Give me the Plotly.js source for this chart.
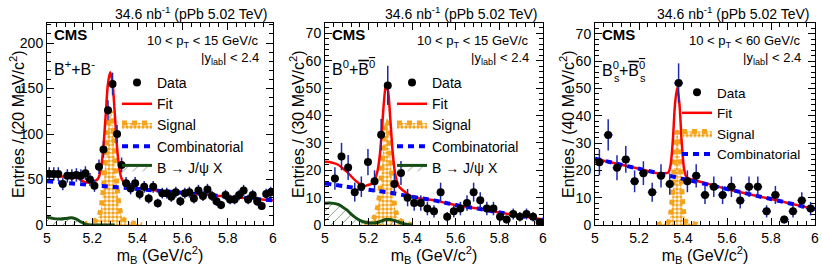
<!DOCTYPE html>
<html><head><meta charset="utf-8">
<script src="https://cdn.plot.ly/plotly-3.0.1.min.js"></script>
<style>html,body{margin:0;padding:0;background:#fff}#chart{width:822px;height:266px}</style>
</head><body><div id="chart"></div>
<script>
// ---------- Panel 1 : B+ + B-  (20 MeV bins) ----------
const bpMass = [5.01,5.03,5.05,5.07,5.09,5.11,5.13,5.15,5.17,5.19,5.21,5.23,5.25,5.27,5.29,5.31,5.33,5.35,5.37,5.39,
                5.41,5.43,5.45,5.47,5.49,5.51,5.53,5.55,5.57,5.59,5.61,5.63,5.65,5.67,5.69,5.71,5.73,5.75,5.77,5.79,
                5.81,5.83,5.85,5.87,5.89,5.91,5.93,5.95,5.97,5.99];
const bpCounts = [56,56,56,45,54,54,55,54,57,50,43,64,83,126,155,100,66,46,40,46,
                  34,42,29,42,24,35,35,31,36,26,35,36,29,38,32,39,32,26,22,33,
                  28,28,33,38,28,33,26,21,34,36];
const bpFitX = [5.00,5.03,5.06,5.09,5.11,5.13,5.15,5.17,5.19,5.21,5.22,5.23,5.24,5.25,5.26,5.27,5.28,5.29,5.30,5.31,5.32,5.33,5.34,5.36,5.38,5.40,5.50,5.60,5.70,5.80,5.90,6.00];
const bpFitY = [56.5,54.4,53.2,53.6,53.7,52.3,49.4,46.9,47,48.6,49.4,53,64,87,122,156,168,156,122,85,62,51,47,44.4,42,40.6,37.5,35.4,33.3,31.2,29.1,27];
const bpSigX = [5.16,5.18,5.20,5.22,5.23,5.24,5.25,5.26,5.27,5.28,5.29,5.30,5.31,5.32,5.33,5.34,5.36,5.38,5.40,5.42];
const bpSigY = [0,2,4,6,10,20,42,77,110,124,110,77,42,20,10,6,4,2,1,0];
const bpCombX = [5.0,5.2,5.4,5.6,5.8,6.0];
const bpCombY = [48,43.8,39.6,35.4,31.2,27];
const bpPeakX = [5.00,5.03,5.06,5.09,5.11,5.13,5.15,5.17,5.19,5.22,5.26,5.30];
const bpPeakY = [8.5,7,6.5,7.5,8,6.5,3.5,1,0,0,0,0];

// ---------- Panel 2 : B0 + B0bar  (30 MeV bins) ----------
const b0Mass = [5.0455,5.0758,5.1061,5.1364,5.1667,5.1970,5.2273,5.2576,5.2879,5.3182,5.3485,5.3788,5.4091,5.4394,5.4697,5.5000,
                5.5303,5.5606,5.5909,5.6212,5.6515,5.6818,5.7121,5.7424,5.7727,5.8030,5.8333,5.8636,5.8939,5.9242,5.9545,5.9848];
const b0Counts = [17,25,21,12,14,23,16,33,51,15,19,10,8,8,6,5,12,3,5,6,8,12,9,6,6,3,2,4,3,4,3,1];
const b0FitX = [5.00,5.02,5.04,5.06,5.08,5.10,5.12,5.14,5.16,5.18,5.20,5.22,5.24,5.25,5.26,5.27,5.28,5.29,5.30,5.31,5.32,5.33,5.34,5.36,5.38,5.40,5.50,5.60,5.70,5.80,5.90,6.00];
const b0FitY = [23.1,23,22.6,22,20.8,19.5,17.8,16.2,15,14.2,14.7,15.3,19.4,24.5,33.5,44.6,51.6,48.5,38.2,27,19.7,15.9,14,12.5,11.3,10.3,9,7.3,6,4.6,3.3,2.0];
const b0SigX = [5.18,5.20,5.22,5.24,5.25,5.26,5.27,5.28,5.29,5.30,5.31,5.32,5.33,5.34,5.36,5.38,5.40];
const b0SigY = [0.3,1,2,6,11,20,31,38,35,25,14,7,3.5,2,1,0.5,0];
const b0CombX = [5.0,5.1,5.2,5.3,5.4,5.5,5.6,5.7,5.8,5.9,6.0];
const b0CombY = [15.2,14,12.9,11.8,10.3,9,7.3,6,4.6,3.3,2.0];
const b0PeakX = [5.00,5.02,5.04,5.06,5.08,5.10,5.12,5.14,5.16,5.18,5.20,5.22,5.24,5.26,5.28,5.30,5.32,5.34,5.36,5.38,5.40];
const b0PeakY = [7.9,8,7.9,7.5,6.6,5.5,4,2.7,1.7,1.1,0.8,0.7,0.9,1.5,2.0,2.0,1.6,1.0,0.5,0.2,0];

// ---------- Panel 3 : Bs0 + Bs0bar  (40 MeV bins) ----------
const bsMass = [5.02,5.06,5.10,5.14,5.18,5.22,5.26,5.30,5.34,5.38,5.42,5.46,5.50,5.54,5.58,5.62,5.66,5.70,5.74,5.78,5.82,5.86,5.90,5.94,5.98];
const bsCounts = [23,33,21,24,16,19,12,18,15,52,16,18,11,14,11,14,9,14,14,5,11,2,5,9,6];
const bsFitX = [5.00,5.10,5.20,5.30,5.32,5.334,5.344,5.354,5.364,5.374,5.384,5.394,5.404,5.414,5.43,5.45,5.60,5.80,6.00];
const bsFitY = [24.3,22.45,20.6,18.75,19.0,19.3,22.2,31.2,44.6,50.4,44.2,30.5,21.1,17.8,16.9,16.5,13.2,9.5,5.8];
const bsSigX = [5.28,5.30,5.32,5.334,5.344,5.354,5.364,5.374,5.384,5.394,5.404,5.414,5.43,5.45,5.47];
const bsSigY = [0,0.5,0.6,1.2,4.3,13.5,27,34,27,13.5,4.3,1.2,0.6,0.5,0];
const bsCombX = [5.0,5.2,5.4,5.6,5.8,6.0];
const bsCombY = [24.3,20.6,16.9,13.2,9.5,5.8];

const binHalf = [0.01, 0.01515, 0.02];
const legendLabels = ['Data','Fit','Signal','Combinatorial','B \u2192 J/\u03c8 X'];
const yTitles = ['Entries / (20 MeV/c<sup>2</sup>)','Entries / (30 MeV/c<sup>2</sup>)','Entries / (40 MeV/c<sup>2</sup>)'];
const speciesLabels = ['B<sup>+</sup>+B<sup>-</sup>',
  'B<sup>0</sup>+<span style="text-decoration:overline">B<sup>0</sup></span>',
  'B<sup>0</sup>+<span style="text-decoration:overline">B<sup>0</sup></span>'];
const ptLabels = ['10 < p<sub>T</sub> < 15 GeV/c','10 < p<sub>T</sub> < 15 GeV/c','10 < p<sub>T</sub> < 60 GeV/c'];

const FONT = 'Liberation Sans, Arial, Helvetica, sans-serif';
const ORANGE = '#f5a21c', BLUE = '#0000ff', RED = '#ff0000', GREEN = '#154d15', ERR = '#1c2aa8';

const panels = [
  {mass:bpMass, counts:bpCounts, fitX:bpFitX, fitY:bpFitY, sigX:bpSigX, sigY:bpSigY, combX:bpCombX, combY:bpCombY, pkX:bpPeakX, pkY:bpPeakY},
  {mass:b0Mass, counts:b0Counts, fitX:b0FitX, fitY:b0FitY, sigX:b0SigX, sigY:b0SigY, combX:b0CombX, combY:b0CombY, pkX:b0PeakX, pkY:b0PeakY},
  {mass:bsMass, counts:bsCounts, fitX:bsFitX, fitY:bsFitY, sigX:bsSigX, sigY:bsSigY, combX:bsCombX, combY:bsCombY}
];

const traces = [];
panels.forEach((p, i) => {
  const xa = i === 0 ? 'x' : 'x' + (i + 1);
  const ya = i === 0 ? 'y' : 'y' + (i + 1);
  const lg = i === 0 ? 'legend' : 'legend' + (i + 1);
  traces.push({x:p.sigX, y:p.sigY, xaxis:xa, yaxis:ya, legend:lg, legendrank:3, name:legendLabels[2],
    type:'scatter', mode:'lines', line:{color:ORANGE, width:5, dash:'dot', shape:'spline'},
    fill:'tozeroy', fillcolor:'rgba(248,190,100,0.6)',
    fillpattern:{shape:'.', fgcolor:ORANGE, size:4, solidity:0.6}});
  if (p.pkX) {
    traces.push({x:p.pkX, y:p.pkY, xaxis:xa, yaxis:ya, legend:lg, legendrank:5, name:legendLabels[4],
      type:'scatter', mode:'lines', line:{color:GREEN, width:3, shape:'spline'},
      fill:'tozeroy', fillcolor:'rgba(255,255,255,0)',
      fillpattern:{shape:'/', fgcolor:'#6f8f6f', bgcolor:'rgba(255,255,255,0)', size:7, solidity:0.12}});
  }
  traces.push({x:p.fitX, y:p.fitY, xaxis:xa, yaxis:ya, legend:lg, legendrank:2, name:legendLabels[1],
    type:'scatter', mode:'lines', line:{color:RED, width:2.5, shape:'spline', smoothing:0.8}});
  traces.push({x:p.combX, y:p.combY, xaxis:xa, yaxis:ya, legend:lg, legendrank:4, name:legendLabels[3],
    type:'scatter', mode:'lines', line:{color:BLUE, width:4, dash:'6px,5px', shape:'spline'}});
  traces.push({x:p.mass, y:p.counts, xaxis:xa, yaxis:ya, legend:lg, legendrank:1, name:legendLabels[0],
    type:'scatter', mode:'markers', marker:{color:'#000', size:8},
    error_y:{type:'data', array:p.counts.map(Math.sqrt), color:ERR, thickness:1.5, width:0},
    error_x:{type:'constant', value:binHalf[i], color:ERR, thickness:1.5, width:0}});
});

const W = 822, H = 266;
const px = v => v / W, py = v => 1 - v / H;
const xDom = [[47,273],[325,543],[595,815]];
const yRanges = [[0,222],[0,73.8],[0,74]];
const yDticks = [50,10,10];
const yMinor = [10,2,2];
const yTitleX = [17, 297, 567];

const layout = {
  width:W, height:H, margin:{l:0,r:0,t:0,b:0}, showlegend:true,
  paper_bgcolor:'#fff', plot_bgcolor:'#fff',
  font:{family:FONT, color:'#000', size:13},
  annotations:[]
};
const legendX = [117, 392, 677];
const legendY = [67, 67, 77];
const legendFont = [14, 14, 13.5];

for (let i = 0; i < 3; i++) {
  const s = i === 0 ? '' : String(i + 1);
  layout['xaxis' + s] = {
    domain:[px(xDom[i][0]), px(xDom[i][1])], range:[5,6], anchor:'y' + s,
    showline:true, linecolor:'#000', linewidth:1, mirror:'allticks',
    ticks:'inside', ticklen:7, tickwidth:1, tickcolor:'#000', dtick:0.2, tick0:5,
    minor:{ticks:'inside', ticklen:4, dtick:0.04, tickcolor:'#000'},
    showgrid:false, zeroline:false, tickfont:{size:14},
    title:{text:'m<sub>B</sub> (GeV/c<sup>2</sup>)', font:{size:16}, standoff:0}
  };
  layout['yaxis' + s] = {
    domain:[py(225), py(23)], range:yRanges[i], anchor:'x' + s,
    showline:true, linecolor:'#000', linewidth:1, mirror:'allticks',
    ticks:'inside', ticklen:7, tickwidth:1, tickcolor:'#000', dtick:yDticks[i], tick0:0,
    minor:{ticks:'inside', ticklen:4, dtick:yMinor[i], tickcolor:'#000'},
    showgrid:false, zeroline:false, tickfont:{size:14}
  };
  layout['legend' + s] = {
    x:px(legendX[i]), y:py(legendY[i]), xanchor:'left', yanchor:'top',
    bgcolor:'rgba(0,0,0,0)', font:{size:legendFont[i]}, itemwidth:30, tracegroupgap:0
  };
  const right = xDom[i][1];
  const left = xDom[i][0];
  const ann = layout.annotations;
  ann.push({xref:'paper', yref:'paper', x:px(yTitleX[i]), y:py(124), xanchor:'center', yanchor:'middle', showarrow:false,
    textangle:-90, text:yTitles[i], font:{size:16}});
  ann.push({xref:'paper', yref:'paper', x:px(right - 4), y:py(13), xanchor:'right', yanchor:'middle', showarrow:false,
    text:'34.6 nb<sup>-1</sup> (pPb 5.02 TeV)', font:{size:14}});
  ann.push({xref:'paper', yref:'paper', x:px(left + 5), y:py(34), xanchor:'left', yanchor:'middle', showarrow:false,
    text:'<b>CMS</b>', font:{size:15}});
  ann.push({xref:'paper', yref:'paper', x:px(left + 5), y:py(i === 2 ? 69 : 68), xanchor:'left', yanchor:'middle', showarrow:false,
    text:speciesLabels[i], font:{size:16}});
  ann.push({xref:'paper', yref:'paper', x:px(right - 12), y:py(41), xanchor:'right', yanchor:'middle', showarrow:false,
    text:ptLabels[i], font:{size:13}});
  ann.push({xref:'paper', yref:'paper', x:px(right - 12), y:py(59), xanchor:'right', yanchor:'middle', showarrow:false,
    text:'|y<sub>lab</sub>| < 2.4', font:{size:13}});
}
// subscript "s" under the superscript 0 of the Bs labels (stacked as in the original)
const bsLeft = xDom[2][0] + 5;
[11.7, 37.6].forEach(dx => {
  layout.annotations.push({xref:'paper', yref:'paper', x:px(bsLeft + dx), y:py(78), xanchor:'left', yanchor:'middle',
    showarrow:false, text:'s', font:{size:11}});
});

Plotly.newPlot('chart', traces, layout, {staticPlot:true, displayModeBar:false});
</script></body></html>
